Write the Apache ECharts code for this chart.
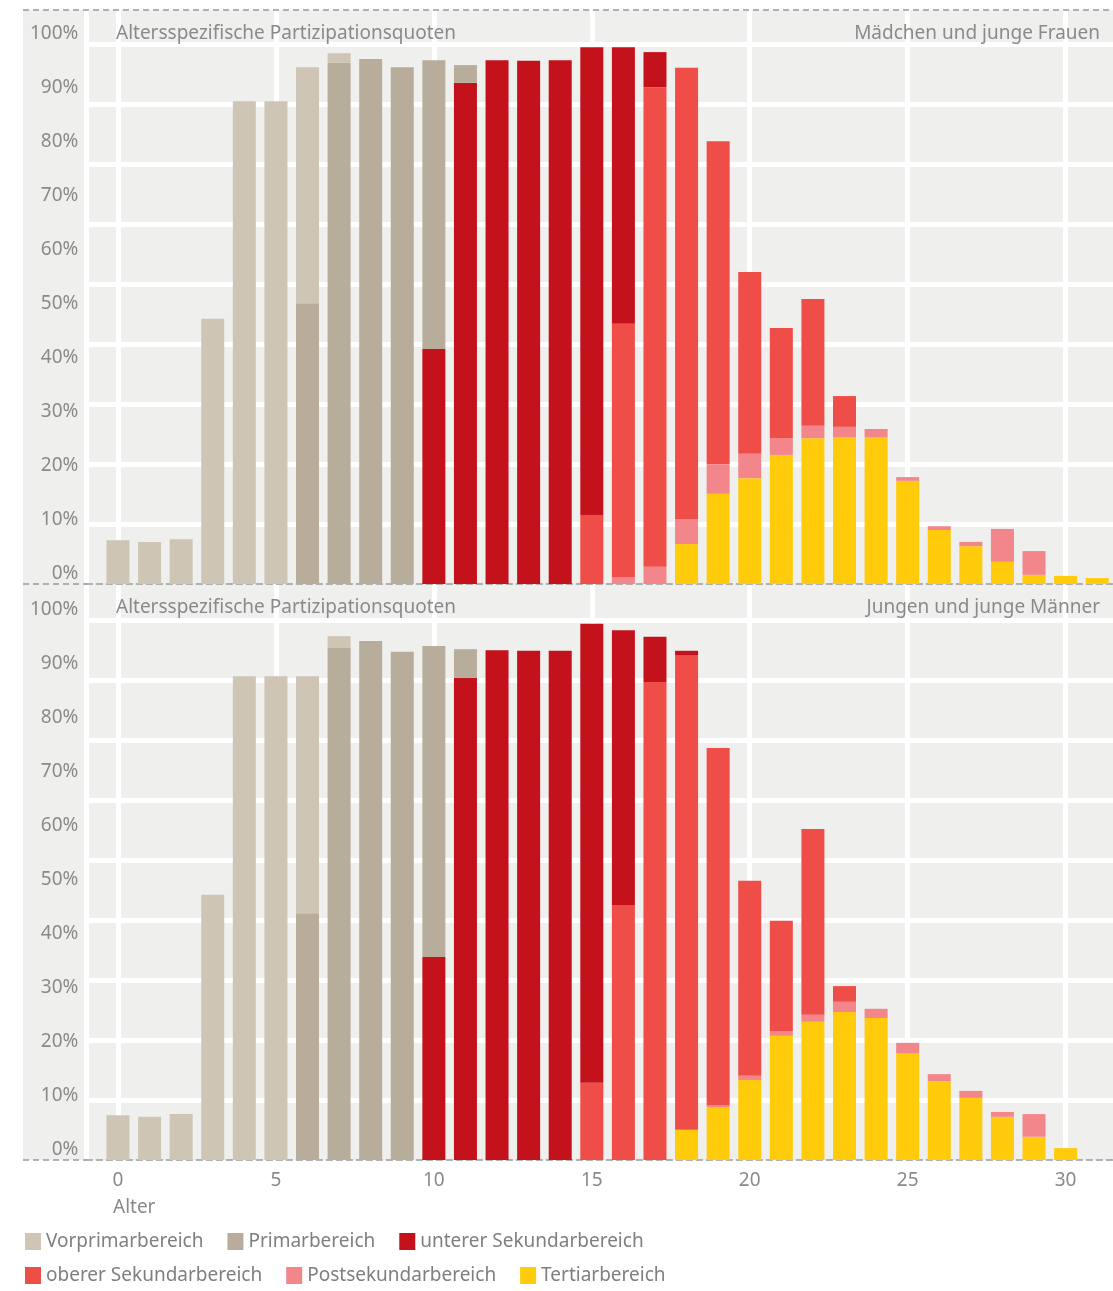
<!DOCTYPE html>
<html>
<head>
<meta charset="utf-8">
<script src="https://cdn.jsdelivr.net/npm/echarts@6/dist/echarts.min.js"></script>
<style>
  * { margin: 0; padding: 0; }
  body { background: #fff; }
</style>
</head>
<body>
<div id="chart" style="width: 1113px; height: 1291px;"></div>
<script>
// Alter (Jahre)
const ages = [0, 1, 2, 3, 4, 5, 6, 7, 8, 9, 10, 11, 12, 13, 14, 15,
              16, 17, 18, 19, 20, 21, 22, 23, 24, 25, 26, 27, 28, 29, 30, 31];
const xGridTicks = [-1, 0, 5, 10, 15, 20, 25, 30];
const xLabels = [0, 5, 10, 15, 20, 25, 30];

const names = ['Vorprimarbereich', 'Primarbereich', 'unterer Sekundarbereich',
               'oberer Sekundarbereich', 'Postsekundarbereich', 'Tertiarbereich'];
const colors = ['#cfc5b4', '#b8ad9a', '#c4121c', '#ef4d47', '#f3868b', '#ffcb0b'];

// Mädchen und junge Frauen (%)
const vorprimarF = [8.1, 7.8, 8.3, 49.1, 89.4, 89.4, 43.7, 1.8, 0, 0, 0, 0, 0, 0, 0, 0,
                    0, 0, 0, 0, 0, 0, 0, 0, 0, 0, 0, 0, 0, 0, 0, 0];
const primarF = [0, 0, 0, 0, 0, 0, 52.0, 96.5, 97.2, 95.7, 53.5, 3.3, 0, 0, 0, 0,
                 0, 0, 0, 0, 0, 0, 0, 0, 0, 0, 0, 0, 0, 0, 0, 0];
const unterF = [0, 0, 0, 0, 0, 0, 0, 0, 0, 0, 43.5, 92.8, 97.0, 96.9, 97.0, 86.6,
                51.2, 6.5, 0, 0, 0, 0, 0, 0, 0, 0, 0, 0, 0, 0, 0, 0];
const oberF = [0, 0, 0, 0, 0, 0, 0, 0, 0, 0, 0, 0, 0, 0, 0, 12.8,
               47.0, 88.8, 83.6, 59.8, 33.7, 20.4, 23.5, 5.7, 0, 0, 0, 0, 0, 0, 0, 0];
const postF = [0, 0, 0, 0, 0, 0, 0, 0, 0, 0, 0, 0, 0, 0, 0, 0,
               1.2, 3.2, 4.6, 5.5, 4.5, 3.1, 2.3, 1.9, 1.5, 0.7, 0.7, 0.8, 6.1, 4.4, 0, 0];
const tertF = [0, 0, 0, 0, 0, 0, 0, 0, 0, 0, 0, 0, 0, 0, 0, 0,
               0, 0, 7.4, 16.7, 19.6, 23.9, 27.0, 27.2, 27.2, 19.1, 10.0, 7.0, 4.1, 1.7, 1.5, 1.1];

// Jungen und junge Männer (%)
const vorprimarM = [8.3, 8.0, 8.5, 49.1, 89.6, 89.6, 43.9, 2.2, 0, 0, 0, 0, 0, 0, 0, 0,
                    0, 0, 0, 0, 0, 0, 0, 0, 0, 0, 0, 0, 0, 0, 0, 0];
const primarM = [0, 0, 0, 0, 0, 0, 45.7, 94.8, 96.1, 94.1, 57.6, 5.3, 0, 0, 0, 0,
                 0, 0, 0, 0, 0, 0, 0, 0, 0, 0, 0, 0, 0, 0, 0, 0];
const unterM = [0, 0, 0, 0, 0, 0, 0, 0, 0, 0, 37.6, 89.3, 94.4, 94.3, 94.3, 85.0,
                50.9, 8.4, 0.8, 0, 0, 0, 0, 0, 0, 0, 0, 0, 0, 0, 0, 0];
const oberM = [0, 0, 0, 0, 0, 0, 0, 0, 0, 0, 0, 0, 0, 0, 0, 14.3,
               47.2, 88.5, 87.9, 66.1, 36.1, 20.4, 34.4, 2.9, 0, 0, 0, 0, 0, 0, 0, 0];
const postM = [0, 0, 0, 0, 0, 0, 0, 0, 0, 0, 0, 0, 0, 0, 0, 0,
               0, 0, 0, 0.4, 0.8, 0.9, 1.3, 1.9, 1.7, 1.9, 1.3, 1.3, 0.9, 4.2, 0, 0];
const tertM = [0, 0, 0, 0, 0, 0, 0, 0, 0, 0, 0, 0, 0, 0, 0, 0,
               0, 0, 5.6, 9.8, 14.8, 23.0, 25.6, 27.4, 26.3, 19.8, 14.6, 11.5, 8.0, 4.3, 2.2, 0];

const font = 'Noto Sans';
const grey = '#8a8a8a';
const bg = '#efefed';

// weisse Hilfslinien (9 gleiche Abschnitte)
const yGridTicks = [];
for (let k = 1; k <= 9; k++) yGridTicks.push(k * 100 / 9);

const chart = echarts.init(document.getElementById('chart'));

function xAxes(grid, withLabels) {
    return {
        gridIndex: grid, type: 'value', min: -1, max: 31.5,
        axisLine: { show: true, onZero: false, lineStyle: { color: '#9a9a9a', type: [6, 4], width: 1.5 } },
        axisTick: { show: false, customValues: xGridTicks },
        axisLabel: withLabels ? {
            show: true, customValues: xLabels, color: grey, fontSize: 19, fontFamily: font, margin: 11
        } : { show: false },
        splitLine: { show: true, lineStyle: { color: '#fff', width: 5 } }
    };
}
function yLabelAxis(grid, max) {
    return {
        gridIndex: grid, type: 'value', min: 0, max: max, interval: 10,
        axisLine: { show: false }, axisTick: { show: false },
        splitLine: { show: false },
        axisLabel: {
            formatter: '{value}%', showMaxLabel: false, color: grey, fontSize: 19,
            fontFamily: font, margin: 8, verticalAlign: 'bottom', lineHeight: 20
        }
    };
}
function yGridAxis(grid, max) {
    return {
        gridIndex: grid, type: 'value', min: 0, max: max, position: 'right',
        axisLine: { show: false },
        axisTick: { show: false, customValues: yGridTicks },
        axisLabel: { show: false },
        splitLine: { show: true, lineStyle: { color: '#fff', width: 5 } }
    };
}

const femaleVals = [vorprimarF, primarF, unterF, oberF, postF, tertF];
const maleVals = [vorprimarM, primarM, unterM, oberM, postM, tertM];
// Stapelreihenfolge von unten: Tertiär ... Vorprimar
const stackOrder = [5, 4, 3, 2, 1, 0];
const series = [];
[[femaleVals, 0, 0, 'f'], [maleVals, 1, 2, 'm']].forEach(function (p) {
    stackOrder.forEach(function (i) {
        series.push({
            name: names[i], type: 'bar', stack: p[3],
            xAxisIndex: p[1], yAxisIndex: p[2],
            barWidth: 23, silent: true,
            itemStyle: { color: colors[i] },
            // Wert zuerst, damit der Wert gestapelt wird (nicht das Alter)
            encode: { x: 1, y: 0 },
            data: ages.map(function (a, j) { return [p[0][i][j], a]; })
        });
    });
});

const titleStyle = { color: grey, fontSize: 19, fontWeight: 'normal', fontFamily: font };
const legendCommon = {
    left: 25, padding: 0, icon: 'rect', itemWidth: 16, itemHeight: 17, itemGap: 24,
    selectedMode: false,
    textStyle: { color: '#7f7f7f', fontSize: 19, fontFamily: font }
};

chart.setOption({
    backgroundColor: '#fff',
    animation: false,
    title: [
        { text: 'Altersspezifische Partizipationsquoten', left: 116, top: 24, padding: 0, textStyle: titleStyle },
        { text: 'Mädchen und junge Frauen', right: 13, top: 24, padding: 0, textStyle: titleStyle },
        { text: 'Altersspezifische Partizipationsquoten', left: 116, top: 598, padding: 0, textStyle: titleStyle },
        { text: 'Jungen und junge Männer', right: 13, top: 598, padding: 0, textStyle: titleStyle },
        { text: 'Alter', left: 113, top: 1198, padding: 0, textStyle: titleStyle }
    ],
    legend: [
        Object.assign({ top: 1232, data: names.slice(0, 3) }, legendCommon),
        Object.assign({ top: 1266, data: names.slice(3) }, legendCommon)
    ],
    graphic: [
        { type: 'rect', left: 23, top: 10, z: -10, shape: { width: 64, height: 1150 }, style: { fill: bg } },
        { type: 'line', z: 10, shape: { x1: 23, y1: 10, x2: 1113, y2: 10 },
          style: { stroke: '#9a9a9a', lineWidth: 1.5, lineDash: [6, 4] } },
        { type: 'line', z: 10, shape: { x1: 23, y1: 584, x2: 87, y2: 584 },
          style: { stroke: '#9a9a9a', lineWidth: 1.5, lineDash: [6, 4] } },
        { type: 'line', z: 10, shape: { x1: 23, y1: 1160, x2: 87, y2: 1160 },
          style: { stroke: '#9a9a9a', lineWidth: 1.5, lineDash: [6, 4] } }
    ],
    grid: [
        { left: 86.4, right: 0, top: 10, height: 574, show: true, backgroundColor: bg,
          borderWidth: 0, outerBoundsMode: 'none' },
        { left: 86.4, right: 0, top: 584, height: 576, show: true, backgroundColor: bg,
          borderWidth: 0, outerBoundsMode: 'none' }
    ],
    xAxis: [xAxes(0, false), xAxes(1, true)],
    yAxis: [
        yLabelAxis(0, 574 / 5.4), yGridAxis(0, 574 / 5.4),
        yLabelAxis(1, 576 / 5.4), yGridAxis(1, 576 / 5.4)
    ],
    series: series
});
</script>
</body>
</html>
